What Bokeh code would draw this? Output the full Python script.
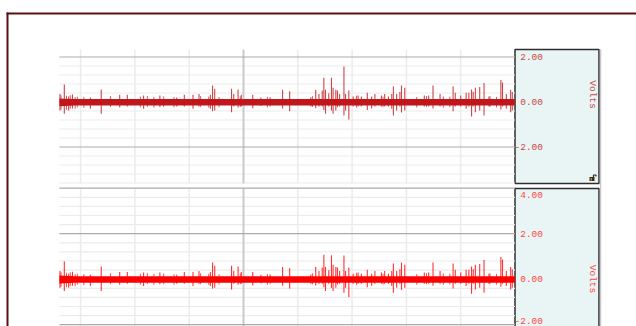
from bokeh.plotting import figure
from bokeh.models import Range1d
from bokeh.embed import file_html
from bokeh.resources import INLINE
from bokeh.core.properties import value

# ---------------- recorded data (time in s, amplitude in V) ----------------
t_start, t_end = -3.39, 5.00

# envelope of the dense baseline noise
band_t = [-3.39, -3.30, -3.10, 5.00]
band_hi = [0.16, 0.15, 0.13, 0.13]
band_lo = [-0.19, -0.18, -0.16, -0.16]

# transient spikes riding on the baseline
spike_t = [-3.38, -3.30, -3.22, -3.15, -2.82, -2.62, -2.28, -2.14, -1.84, -1.54,
           -1.23, -1.09, -0.93, -0.82, -0.61, -0.57, -0.53, -0.22, -0.18, -0.10,
           -0.04, 0.17, 0.32, 0.49, 0.72, 0.85, 1.24, 1.33, 1.39, 1.45,
           1.48, 1.51, 1.57, 1.62, 1.65, 1.70, 1.73, 1.77, 1.85, 1.88,
           1.94, 2.02, 2.11, 2.17, 2.28, 2.36, 2.42, 2.54, 2.60, 2.67,
           2.73, 2.76, 2.82, 2.88, 2.91, 2.97, 3.33, 3.41, 3.49, 3.62,
           3.86, 3.90, 4.00, 4.10, 4.15, 4.20, 4.23, 4.27, 4.35, 4.43,
           4.52, 4.74, 4.77, 4.84, 4.92, 4.95]
ch1_spike_hi = [0.36, 0.78, 0.24, 0.33, 0.20, 0.56, 0.32, 0.32, 0.29, 0.29,
                0.20, 0.32, 0.32, 0.36, 0.32, 0.73, 0.59, 0.59, 0.36, 0.56,
                0.32, 0.32, 0.20, 0.21, 0.54, 0.48, 0.21, 0.54, 0.36, 0.51,
                1.08, 0.54, 0.39, 1.08, 0.63, 0.54, 0.51, 0.36, 1.58, 0.36,
                0.51, 0.24, 0.29, 0.24, 0.41, 0.24, 0.36, 0.29, 0.36, 0.24,
                0.36, 0.69, 0.36, 0.44, 0.73, 0.63, 0.29, 0.29, 0.73, 0.36,
                0.69, 0.41, 0.29, 0.41, 0.41, 0.56, 0.44, 0.63, 0.67, 0.84,
                0.24, 0.98, 0.87, 0.36, 0.54, 0.44]
ch2_spike_hi = [0.36, 0.78, 0.24, 0.33, 0.20, 0.56, 0.32, 0.32, 0.29, 0.29,
                0.20, 0.32, 0.32, 0.36, 0.32, 0.73, 0.59, 0.59, 0.36, 0.56,
                0.32, 0.32, 0.20, 0.21, 0.54, 0.48, 0.21, 0.54, 0.36, 0.51,
                1.08, 0.54, 0.39, 1.05, 0.63, 0.54, 0.51, 0.36, 1.04, 0.36,
                0.51, 0.24, 0.29, 0.24, 0.41, 0.24, 0.36, 0.29, 0.36, 0.24,
                0.36, 0.69, 0.36, 0.44, 0.73, 0.63, 0.29, 0.29, 0.73, 0.36,
                0.69, 0.41, 0.29, 0.41, 0.41, 0.56, 0.44, 0.63, 0.67, 0.84,
                0.24, 0.98, 0.87, 0.36, 0.54, 0.44]
spike_lo = [-0.38, -0.52, -0.38, -0.29, -0.30, -0.52, -0.24, -0.20, -0.30, -0.22,
            -0.20, -0.20, -0.30, -0.20, -0.30, -0.41, -0.38, -0.45, -0.20, -0.24,
            -0.20, -0.28, -0.18, -0.20, -0.29, -0.41, -0.20, -0.28, -0.20, -0.20,
            -0.35, -0.52, -0.20, -0.38, -0.52, -0.38, -0.23, -0.20, -0.60, -0.38,
            -0.78, -0.20, -0.20, -0.20, -0.35, -0.29, -0.20, -0.20, -0.20, -0.20,
            -0.30, -0.60, -0.38, -0.20, -0.47, -0.38, -0.20, -0.20, -0.29, -0.20,
            -0.41, -0.20, -0.20, -0.30, -0.20, -0.64, -0.20, -0.45, -0.38, -0.60,
            -0.20, -0.33, -0.20, -0.30, -0.45, -0.38]

# small flickers in the baseline (same on both channels)
fuzz_t = [-3.36, -3.26, -3.19, -3.10, -3.06, -2.94, -2.45, -1.90, -1.77, -1.65,
          -1.47, -1.28, -0.79, -0.64, -0.45, -0.06, 0.44, 1.27, 2.08, 2.57,
          3.19, 3.37, 3.68, 3.80, 4.54, 4.66]
fuzz_hi = [0.30, 0.28, 0.30, 0.22, 0.24, 0.22, 0.26, 0.24, 0.27, 0.23,
           0.25, 0.22, 0.26, 0.24, 0.22, 0.25, 0.23, 0.26, 0.28, 0.24,
           0.22, 0.27, 0.25, 0.24, 0.26, 0.23]
fuzz_lo = [-0.34, -0.35, -0.30, -0.30, -0.24, -0.26, -0.22, -0.24, -0.21, -0.25,
           -0.22, -0.24, -0.22, -0.25, -0.23, -0.22, -0.24, -0.22, -0.25, -0.23,
           -0.24, -0.22, -0.25, -0.23, -0.22, -0.24]

# axis ticks
ch1_ticks = [-2.0, 0.0, 2.0]
ch2_ticks = [-2.0, 0.0, 2.0, 4.0]
volt_minor_step = 0.4
time_minor = [-3, -2, -1, 1, 2, 3, 4]
time_major = [0]
axis_title = "Volts"

# ---------------- page geometry (pixels) ----------------
W, H = 636, 326
T0_PX, PX_PER_S = 243.0, 54.3


def sx(px):
    return (px - T0_PX) / PX_PER_S


class VScale:
    def __init__(self, zero_px, px_per_v):
        self.zero_px, self.px_per_v = zero_px, px_per_v

    def v(self, py):
        return (self.zero_px - py) / self.px_per_v

    def py(self, v):
        return self.zero_px - v * self.px_per_v


top_scale = VScale(101.5, 22.5)
bot_scale = VScale(278.7, 22.75)

p = figure(width=W, height=H, output_backend="svg", toolbar_location=None,
           x_axis_type=None, y_axis_type=None, min_border=0,
           x_range=Range1d(sx(0), sx(W)),
           y_range=Range1d(top_scale.v(H), top_scale.v(0)),
           outline_line_color=None, background_fill_color="white",
           border_fill_color="white")
p.extra_y_ranges = {"bot": Range1d(bot_scale.v(H), bot_scale.v(0))}
p.xgrid.visible = False
p.ygrid.visible = False

MINOR = "#ebebeb"
MAJOR_H = "#ababab"
MAJOR_V = "#c9c9c9"
BOX_FILL = "#e9f4f4"
BOX_LINE = "#2e2e2e"

panels = [
    dict(rng="default", sc=top_scale, top_px=49, bottom_px=183, ticks=ch1_ticks,
         hi=ch1_spike_hi, trace="#c0161c", label="#c84a4a", title_px=94,
         lock=True),
    dict(rng="bot", sc=bot_scale, top_px=188, bottom_px=H + 4, ticks=ch2_ticks,
         hi=ch2_spike_hi, trace="#ff0000", label="#ff4848", title_px=278.5,
         lock=False),
]

box_right = sx(598.5)
label_x = sx(542.5)
title_x = sx(592)

for pn in panels:
    r = pn["rng"]
    sc = pn["sc"]
    vmin, vmax = sc.v(pn["bottom_px"]), sc.v(pn["top_px"])

    # value-axis box
    p.quad(left=[t_end], right=[box_right], bottom=[vmin], top=[vmax],
           fill_color=BOX_FILL, line_color=BOX_LINE, line_width=1.5,
           y_range_name=r)

    # minor horizontal grid
    lo_k = int(min(pn["ticks"]) / volt_minor_step) - 6
    hi_k = int(max(pn["ticks"]) / volt_minor_step) + 6
    minor_v = [round(k * volt_minor_step, 2) for k in range(lo_k, hi_k + 1)]
    minor_v = [v for v in minor_v
               if vmin < v < vmax and abs(v / 2.0 - round(v / 2.0)) > 1e-6]
    p.segment(x0=[t_start] * len(minor_v), x1=[t_end] * len(minor_v),
              y0=minor_v, y1=minor_v, line_color=MINOR, line_width=1.2,
              y_range_name=r)

    # vertical grid
    p.segment(x0=time_minor, x1=time_minor, y0=[vmin] * len(time_minor),
              y1=[vmax] * len(time_minor), line_color=MINOR, line_width=1.5,
              y_range_name=r)
    p.segment(x0=time_major, x1=time_major, y0=[vmin] * len(time_major),
              y1=[vmax] * len(time_major), line_color=MAJOR_V, line_width=2,
              y_range_name=r)

    # major horizontal grid
    major_v = [v for v in pn["ticks"] if vmin <= v + 1e-9 and v < vmax + 0.05]
    p.segment(x0=[t_start] * len(major_v), x1=[t_end] * len(major_v),
              y0=major_v, y1=major_v, line_color=MAJOR_H, line_width=1.2,
              y_range_name=r)

    # signal: baseline envelope, flickers and spikes
    p.varea(x=band_t, y1=band_lo, y2=band_hi, fill_color=pn["trace"],
            y_range_name=r)
    p.segment(x0=fuzz_t, x1=fuzz_t, y0=fuzz_lo, y1=fuzz_hi,
              line_color=pn["trace"], line_width=1.0, line_alpha=0.7,
              y_range_name=r)
    p.segment(x0=spike_t, x1=spike_t, y0=spike_lo, y1=pn["hi"],
              line_color=pn["trace"], line_width=1.1, line_alpha=0.8,
              y_range_name=r)

    # tick labels kept inside the visible part of the box
    lab_y = []
    for v in pn["ticks"]:
        py = min(max(sc.py(v), pn["top_px"] + 6), H - 6)
        lab_y.append(sc.v(py))
    p.text(x=[label_x] * len(pn["ticks"]), y=lab_y,
           text=[f"{v:.2f}" for v in pn["ticks"]],
           text_font=value("Liberation Mono"), text_font_size="9.5px",
           text_color=pn["label"], text_align="right", text_baseline="middle",
           y_range_name=r)
    p.text(x=[title_x], y=[sc.v(pn["title_px"])], text=[axis_title],
           angle=-1.5708,
           text_font=value("Liberation Mono"), text_font_size="9.5px",
           text_color=pn["label"], text_align="center", text_baseline="middle",
           y_range_name=r)

    if pn["lock"]:
        p.quad(left=[sx(589)], right=[sx(594)], bottom=[sc.v(180.5)],
               top=[sc.v(176.5)], fill_color="#3b2a18", line_color=None)
        p.quad(left=[sx(590)], right=[sx(591.5)], bottom=[sc.v(180)],
               top=[sc.v(177.5)], fill_color="#b08840", line_color=None)
        p.line(x=[sx(593), sx(593), sx(595.5), sx(595.5)],
               y=[sc.v(176.5), sc.v(174.5), sc.v(174.5), sc.v(176)],
               line_color="#3b2a18", line_width=1.2)

# separator to the right of the value axes
p.segment(x0=[sx(600)], x1=[sx(600)], y0=[top_scale.v(49)],
          y1=[top_scale.v(H + 2)], line_color="#c8c8c8", line_width=1.5)

# window frame
FRAME = "#5c0e14"
p.segment(x0=[sx(7), sx(6)], x1=[sx(7), sx(W + 2)],
          y0=[top_scale.v(12), top_scale.v(13)],
          y1=[top_scale.v(H + 2), top_scale.v(13)],
          line_color=FRAME, line_width=2)

open("out.html", "w").write(file_html(p, INLINE))
